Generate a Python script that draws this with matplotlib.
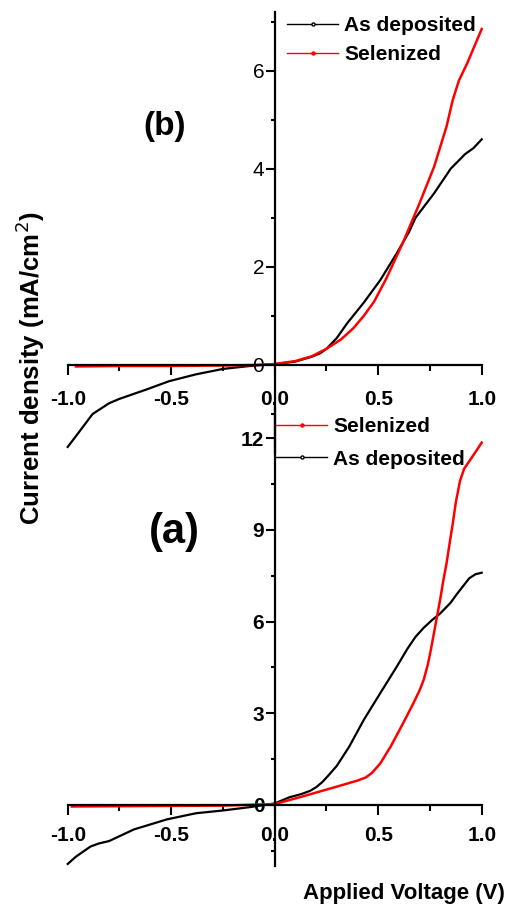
import matplotlib
matplotlib.use("Agg")
import matplotlib.pyplot as plt
from matplotlib.lines import Line2D
from matplotlib.ticker import MultipleLocator, FormatStrFormatter
import matplotlib.font_manager as fm

names = {f.name for f in fm.fontManager.ttflist}
FAM = [n for n in ['Liberation Sans Narrow', 'Liberation Sans', 'DejaVu Sans'] if n in names]
plt.rcParams['font.family'] = FAM

# ---------------- data ----------------
# panel (b)
b_dep_V = [-1.0, -0.96, -0.88, -0.80, -0.75, -0.62, -0.51, -0.38, -0.25, -0.12, 0.0, 0.10, 0.18,
           0.22, 0.25, 0.30, 0.35, 0.43, 0.51, 0.59, 0.65, 0.68, 0.77, 0.85, 0.92, 0.96, 1.0]
b_dep_J = [-1.67, -1.45, -1.0, -0.78, -0.69, -0.50, -0.33, -0.19, -0.08, -0.02, 0.02, 0.07, 0.17,
           0.24, 0.33, 0.55, 0.85, 1.27, 1.73, 2.28, 2.72, 3.0, 3.5, 4.0, 4.3, 4.42, 4.6]
b_sel_V = [-0.96, -0.75, -0.5, -0.25, -0.1, 0.0, 0.1, 0.18, 0.25, 0.32, 0.38, 0.43, 0.48, 0.54,
           0.62, 0.70, 0.77, 0.83, 0.86, 0.89, 0.93, 0.97, 1.0]
b_sel_J = [-0.03, -0.02, -0.02, -0.01, 0.0, 0.02, 0.08, 0.18, 0.33, 0.52, 0.75, 1.0, 1.29, 1.77,
           2.5, 3.3, 4.04, 4.86, 5.4, 5.8, 6.15, 6.55, 6.85]
# panel (a)
a_dep_V = [-1.0, -0.96, -0.89, -0.85, -0.80, -0.68, -0.52, -0.38, -0.25, -0.12, 0.0, 0.07, 0.13,
           0.17, 0.20, 0.23, 0.26, 0.30, 0.36, 0.43, 0.51, 0.59, 0.64, 0.68, 0.72, 0.76, 0.80,
           0.85, 0.88, 0.91, 0.94, 0.97, 1.0]
a_dep_J = [-1.93, -1.69, -1.36, -1.26, -1.18, -0.80, -0.47, -0.27, -0.18, -0.07, 0.05, 0.25, 0.36,
           0.46, 0.58, 0.75, 0.97, 1.28, 1.91, 2.78, 3.66, 4.53, 5.1, 5.5, 5.8, 6.05, 6.27,
           6.62, 6.9, 7.16, 7.42, 7.55, 7.6]
a_sel_V = [-0.98, -0.75, -0.5, -0.25, 0.0, 0.14, 0.30, 0.40, 0.44, 0.47, 0.51, 0.56, 0.62, 0.67,
           0.70, 0.72, 0.74, 0.755, 0.77, 0.785, 0.80, 0.815, 0.83, 0.845, 0.86, 0.875, 0.895,
           0.915, 0.94, 0.96, 0.98, 1.0]
a_sel_J = [-0.05, -0.04, -0.03, -0.02, 0.03, 0.29, 0.6, 0.80, 0.90, 1.05, 1.36, 1.91, 2.67, 3.33,
           3.75, 4.1, 4.6, 5.1, 5.65, 6.2, 6.75, 7.36, 7.9, 8.56, 9.2, 9.9, 10.6,
           11.0, 11.25, 11.45, 11.65, 11.86]

x_ticks = [-1.0, -0.5, 0.0, 0.5, 1.0]
b_yticks = [0, 2, 4, 6]
a_yticks = [0, 3, 6, 9, 12]
lbl_dep = "As deposited"
lbl_sel = "Selenized"

W, H = 506, 908
fig = plt.figure(figsize=(W / 100, H / 100), dpi=100)


def px_axes(x0, x1, ytop, ybot):
    return fig.add_axes([x0 / W, 1 - ybot / H, (x1 - x0) / W, (ybot - ytop) / H])


def style(ax, ylim, yticks, yminor, ybold, xpad):
    ax.set_xlim(-1.0, 1.0)
    ax.set_ylim(*ylim)
    for s in ['top', 'right']:
        ax.spines[s].set_visible(False)
    ax.spines['left'].set_position(('data', 0))
    ax.spines['bottom'].set_position(('data', 0))
    for s in ['left', 'bottom']:
        ax.spines[s].set_linewidth(1.6)
    ax.patch.set_alpha(0)
    ax.set_xticks(x_ticks)
    ax.xaxis.set_minor_locator(MultipleLocator(0.25))
    ax.set_yticks(yticks)
    ax.yaxis.set_minor_locator(MultipleLocator(yminor))
    ax.xaxis.set_major_formatter(FormatStrFormatter('%.1f'))
    ax.tick_params(axis='y', which='major', direction='out', length=6.5, width=1.5, pad=1,
                   labelsize=15)
    ax.tick_params(axis='y', which='minor', direction='out', length=3.2, width=1.5)
    ax.tick_params(axis='x', which='major', direction='out', length=7.5, width=1.5, pad=xpad,
                   labelsize=15)
    ax.tick_params(axis='x', which='minor', direction='out', length=4.5, width=1.5)
    for t in ax.get_xticklabels():
        t.set_fontweight('bold')
    for t in ax.get_yticklabels():
        t.set_fontweight('bold' if ybold else 'normal')


# ---------- panel (b) ----------
axb = px_axes(67.7, 481.7, 11.8, 453.3)
axb.plot(b_dep_V, b_dep_J, color='black', lw=1.6, clip_on=False)
axb.plot(b_sel_V, b_sel_J, color='#ff0000', lw=1.8, clip_on=False)
style(axb, (-1.8, 7.2), b_yticks, 1, False, 10.5)
hb = [Line2D([], [], color='black', lw=1.0, marker='o', ms=2.2, mfc='white', mec='black'),
      Line2D([], [], color='#ff0000', lw=1.0, marker='o', ms=2.2, mfc='#ff0000', mec='#ff0000')]
axb.legend(hb, [lbl_dep, lbl_sel], loc='upper left', bbox_to_anchor=(287 / W, 1 - 16 / H),
           bbox_transform=fig.transFigure, frameon=False, borderpad=0, borderaxespad=0,
           handlelength=2.45, handletextpad=0.3, labelspacing=0.5, numpoints=1,
           prop={'size': 15, 'weight': 'bold'})
axb.text(165 / W, 1 - 126 / H, "(b)", transform=fig.transFigure, fontsize=24,
         fontweight='bold', ha='center', va='center')

# ---------- panel (a) ----------
axa = px_axes(67.7, 481.7, 407.7, 866.1)
axa.plot(a_dep_V, a_dep_J, color='black', lw=1.6, clip_on=False)
axa.plot(a_sel_V, a_sel_J, color='#ff0000', lw=1.8, clip_on=False)
style(axa, (-2.0, 13.0), a_yticks, 1.5, True, 7.5)
ha_ = [Line2D([], [], color='#ff0000', lw=1.0, marker='o', ms=2.2, mfc='#ff0000', mec='#ff0000'),
       Line2D([], [], color='black', lw=1.0, marker='o', ms=2.2, mfc='white', mec='black')]
axa.legend(ha_, [lbl_sel, lbl_dep], loc='upper left', bbox_to_anchor=(276 / W, 1 - 417 / H),
           bbox_transform=fig.transFigure, frameon=False, borderpad=0, borderaxespad=0,
           handlelength=2.45, handletextpad=0.3, labelspacing=0.65, numpoints=1,
           prop={'size': 15, 'weight': 'bold'})
axa.text(174 / W, 1 - 532 / H, "(a)", transform=fig.transFigure, fontsize=30,
         fontweight='bold', ha='center', va='center')

# ---------- axis titles ----------
fig.text(30 / W, 1 - 368 / H, "Current density (mA/cm$^2$)", rotation=90, fontsize=18.5,
         fontweight='bold', ha='center', va='center')
fig.text(505 / W, 1 - 893 / H, "Applied Voltage (V)", fontsize=16, fontweight='bold',
         ha='right', va='center')

fig.savefig("out.png", dpi=100)
